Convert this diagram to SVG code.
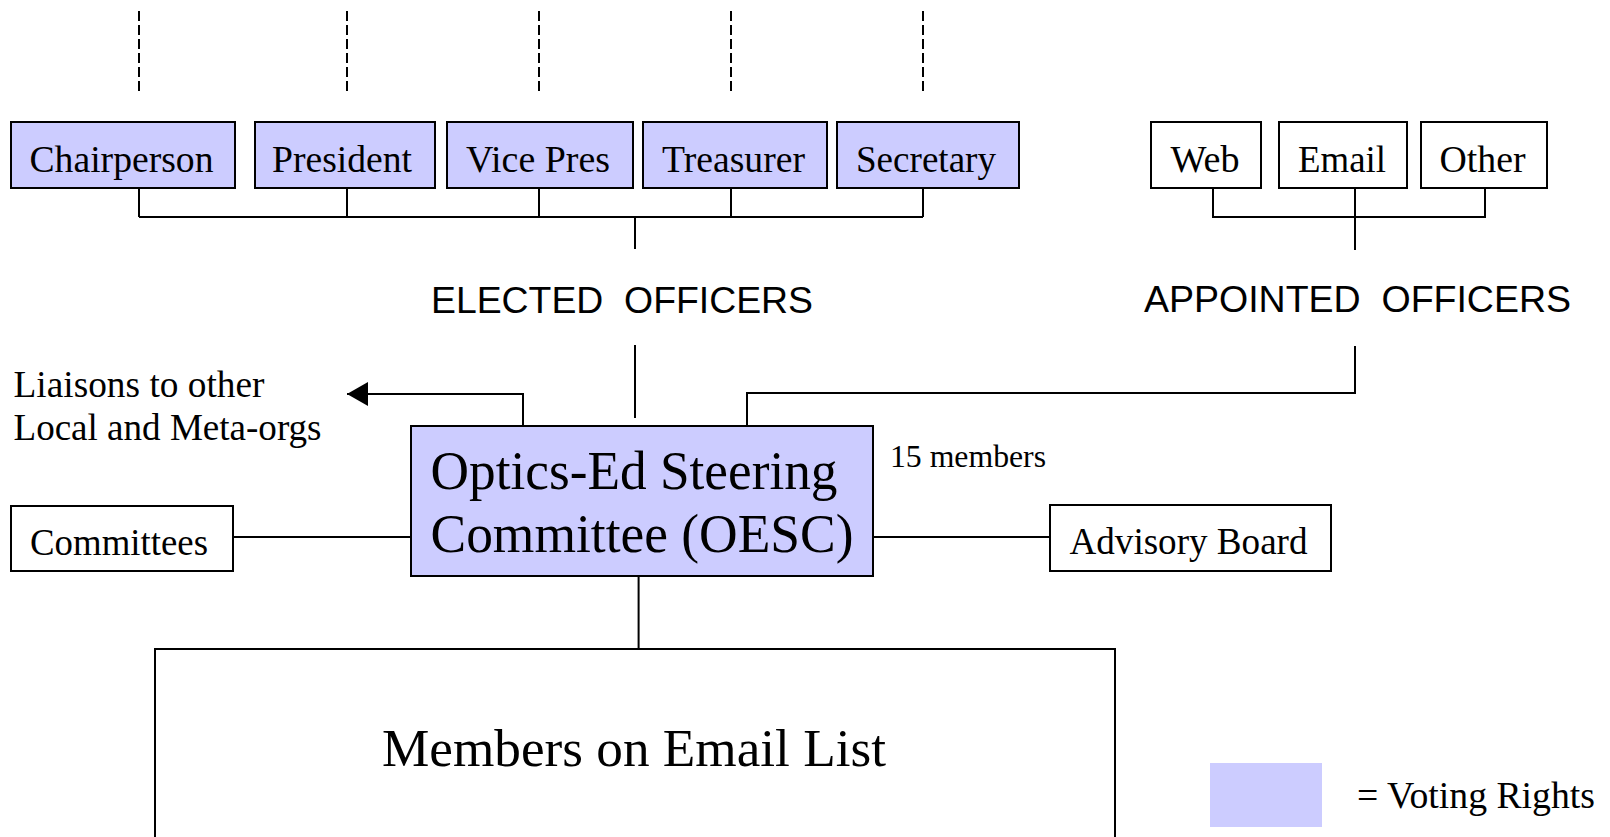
<svg xmlns="http://www.w3.org/2000/svg" width="1610" height="837" viewBox="0 0 1610 837">
<style>
.box{fill:#fff;stroke:#000;stroke-width:2}
.vote{fill:#ccccff;stroke:#000;stroke-width:2}
.ln{fill:none;stroke:#000;stroke-width:2}
.dash{fill:none;stroke:#000;stroke-width:2;stroke-dasharray:10 4}
.t{font-family:"Liberation Serif","Times New Roman",serif;fill:#000}
.a{font-family:"Liberation Sans",Arial,sans-serif;fill:#000;white-space:pre}
</style>
<defs>
<marker id="arr" markerUnits="userSpaceOnUse" markerWidth="22" markerHeight="24" refX="21" refY="12" orient="auto">
<path d="M0,0 L21,12 L0,24 Z" fill="#000"/>
</marker>
</defs>
<rect width="1610" height="837" fill="#fff"/>
<g id="connectors">
<path class="dash" d="M139,11V91 M347,11V91 M539,11V91 M731,11V91 M923,11V91"/>
<path class="ln" d="M139,188V217 M347,188V217 M539,188V217 M731,188V217 M923,188V217 M139,217H923 M635,217V249"/>
<path class="ln" d="M1213,188V217H1485V188 M1355,188V250"/>
<path class="ln" d="M635,345V418"/>
<path class="ln" d="M1355,346V393H747V426"/>
<path class="ln" d="M523,426V394H347" marker-end="url(#arr)"/>
<path class="ln" d="M233,537H411"/>
<path class="ln" d="M873,537H1050"/>
<path class="ln" d="M638.6,576V649"/>
</g>
<g id="chairperson"><rect class="vote" x="11" y="122" width="224" height="66"/><text class="t" x="29.5" y="172" font-size="38" textLength="184" lengthAdjust="spacingAndGlyphs">Chairperson</text></g>
<g id="president"><rect class="vote" x="255" y="122" width="180" height="66"/><text class="t" x="272" y="172" font-size="38" textLength="140" lengthAdjust="spacingAndGlyphs">President</text></g>
<g id="vicepres"><rect class="vote" x="447" y="122" width="186" height="66"/><text class="t" x="466" y="172" font-size="38" textLength="144" lengthAdjust="spacingAndGlyphs">Vice Pres</text></g>
<g id="treasurer"><rect class="vote" x="643" y="122" width="184" height="66"/><text class="t" x="662" y="172" font-size="38" textLength="143" lengthAdjust="spacingAndGlyphs">Treasurer</text></g>
<g id="secretary"><rect class="vote" x="837" y="122" width="182" height="66"/><text class="t" x="856" y="172" font-size="38" textLength="140" lengthAdjust="spacingAndGlyphs">Secretary</text></g>
<g id="web"><rect class="box" x="1151" y="122" width="110" height="66"/><text class="t" x="1170.5" y="172" font-size="38" textLength="69" lengthAdjust="spacingAndGlyphs">Web</text></g>
<g id="email"><rect class="box" x="1279" y="122" width="128" height="66"/><text class="t" x="1298" y="172" font-size="38" textLength="88" lengthAdjust="spacingAndGlyphs">Email</text></g>
<g id="other"><rect class="box" x="1421" y="122" width="126" height="66"/><text class="t" x="1439.5" y="172" font-size="38" textLength="86" lengthAdjust="spacingAndGlyphs">Other</text></g>
<g id="elected"><text class="a" x="431" y="313" font-size="37" textLength="382" lengthAdjust="spacingAndGlyphs">ELECTED  OFFICERS</text></g>
<g id="appointed"><text class="a" x="1144" y="312" font-size="37" textLength="427" lengthAdjust="spacingAndGlyphs">APPOINTED  OFFICERS</text></g>
<g id="liaisons"><text class="t" font-size="38"><tspan x="13.5" y="396.5" textLength="251" lengthAdjust="spacingAndGlyphs">Liaisons to other</tspan><tspan x="13.5" y="440" textLength="308" lengthAdjust="spacingAndGlyphs">Local and Meta-orgs</tspan></text></g>
<g id="oesc"><rect class="vote" x="411" y="426" width="462" height="150"/><text class="t" font-size="55"><tspan x="430.5" y="489" textLength="407" lengthAdjust="spacingAndGlyphs">Optics-Ed Steering</tspan><tspan x="430.5" y="552" textLength="423" lengthAdjust="spacingAndGlyphs">Committee (OESC)</tspan></text></g>
<g id="members-count"><text class="t" x="890" y="467" font-size="32" textLength="156" lengthAdjust="spacingAndGlyphs">15 members</text></g>
<g id="committees"><rect class="box" x="11" y="506" width="222" height="65"/><text class="t" x="30" y="555" font-size="38" textLength="178" lengthAdjust="spacingAndGlyphs">Committees</text></g>
<g id="advisory"><rect class="box" x="1050" y="505" width="281" height="66"/><text class="t" x="1069.5" y="554" font-size="38" textLength="238" lengthAdjust="spacingAndGlyphs">Advisory Board</text></g>
<g id="emaillist"><rect class="box" x="155" y="649" width="960" height="220"/><text class="t" x="382" y="766" font-size="52" textLength="504" lengthAdjust="spacingAndGlyphs">Members on Email List</text></g>
<g id="legend"><rect x="1210" y="763" width="112" height="64" fill="#ccccff"/><text class="t" x="1357" y="808" font-size="37" textLength="238" lengthAdjust="spacingAndGlyphs">= Voting Rights</text></g>
</svg>
